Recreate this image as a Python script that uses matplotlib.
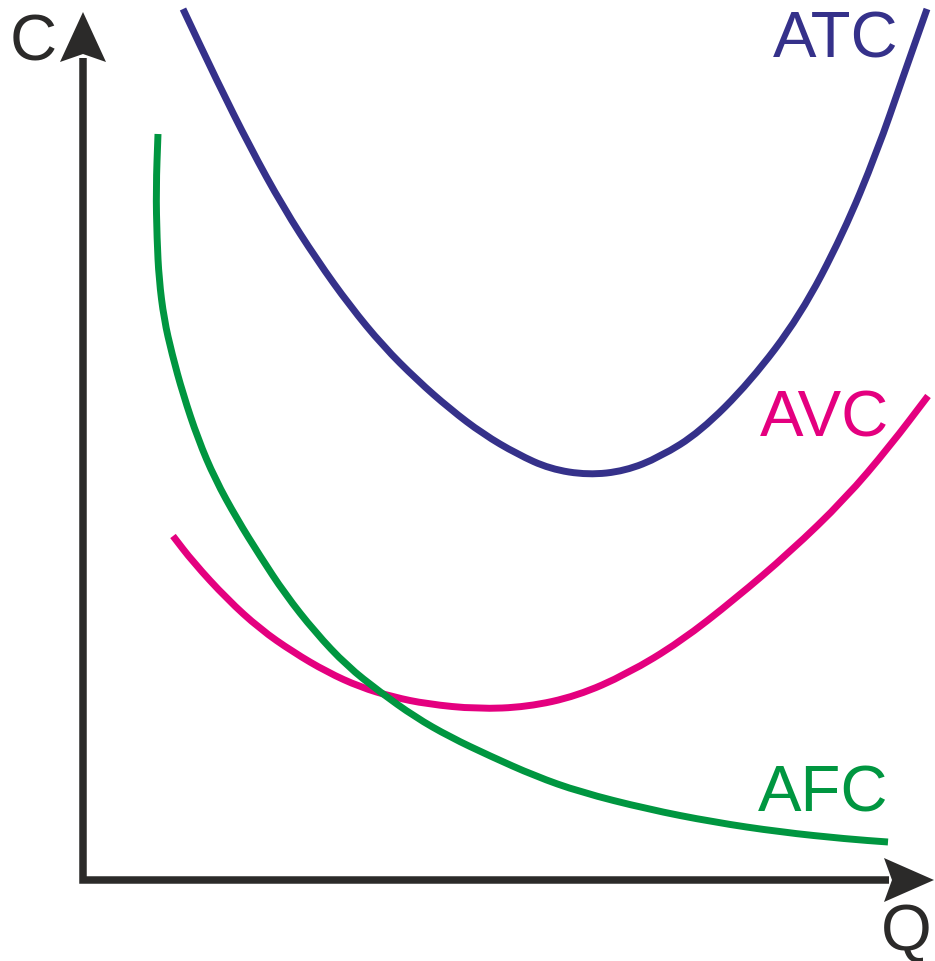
import matplotlib
matplotlib.use("Agg")
import matplotlib.pyplot as plt
from matplotlib.patches import Polygon, PathPatch
from matplotlib.path import Path

# ---- data (Q, C) ----
atc_q = [10.0, 13.4, 16.7, 20.0, 23.4, 26.7, 30.0, 33.4, 36.7, 40.0, 43.4, 46.7, 50.5,
         54.2, 57.7, 61.7, 66.7, 71.7, 76.0, 79.4, 82.0, 84.4]
atc_c = [87.1, 79.9, 73.3, 67.3, 62.0, 57.4, 53.4, 50.0, 47.1, 44.6, 42.6, 41.1, 40.5,
         40.9, 42.3, 44.8, 49.8, 56.4, 64.6, 72.8, 80.3, 87.1]

avc_q = [9.0, 11.0, 14.4, 17.7, 21.0, 24.4, 27.7, 31.0, 34.4, 39.4, 44.4, 49.4, 54.4,
         59.7, 65.2, 70.7, 76.2, 80.7, 84.5]
avc_c = [34.4, 31.8, 28.1, 25.1, 22.8, 20.8, 19.3, 18.3, 17.6, 17.1, 17.3, 18.4, 20.6,
         23.8, 28.1, 32.8, 38.1, 43.4, 48.4]

afc_q = [7.5, 7.3, 7.4, 7.6, 8.1, 8.9, 10.0, 11.5, 13.2, 15.4, 17.7, 20.2, 23.2, 26.4,
         29.7, 33.2, 36.7, 40.7, 45.2, 49.7, 56.4, 63.0, 69.7, 76.4, 80.5]
afc_c = [74.6, 69.1, 64.1, 60.1, 56.1, 52.6, 48.6, 44.1, 40.1, 36.1, 32.4, 28.6, 24.8, 21.4,
         18.8, 16.3, 14.3, 12.4, 10.4, 8.8, 7.1, 5.8, 4.8, 4.1, 3.8]

curve_labels = ["ATC", "AVC", "AFC"]
axis_labels = ["C", "Q"]

# ---- style ----
COL_ATC = "#35318a"
COL_AVC = "#e4007f"
COL_AFC = "#009640"
COL_AX = "#2b2a29"
FONT = "Liberation Sans"


def smooth_path(xs, ys):
    """Quadratic Bezier rendering through the read points (data coordinates)."""
    pts = list(zip(xs, ys))
    verts = [pts[0]]
    codes = [Path.MOVETO]
    mid = lambda a, b: ((a[0] + b[0]) / 2.0, (a[1] + b[1]) / 2.0)
    verts.append(mid(pts[0], pts[1]))
    codes.append(Path.LINETO)
    for i in range(1, len(pts) - 1):
        verts += [pts[i], mid(pts[i], pts[i + 1])]
        codes += [Path.CURVE3, Path.CURVE3]
    verts.append(pts[-1])
    codes.append(Path.LINETO)
    return Path(verts, codes)


fig = plt.figure(figsize=(9.35, 9.62), dpi=100)
ax = fig.add_axes([0, 0, 1, 1])
ax.set_xlim(-8.3, 85.2)
ax.set_ylim(-8.1, 88.1)
ax.axis("off")

lw = 5.0
for xs, ys, col in [(atc_q, atc_c, COL_ATC), (avc_q, avc_c, COL_AVC), (afc_q, afc_c, COL_AFC)]:
    ax.add_patch(PathPatch(smooth_path(xs, ys), fill=False, edgecolor=col, lw=lw,
                           capstyle="butt", joinstyle="round"))

# axes with arrowheads
ax.plot([0, 0, 80.6], [82.2, 0, 0], color=COL_AX, lw=5.4,
        solid_joinstyle="miter", solid_capstyle="butt")
ax.add_patch(Polygon([(0, 86.8), (2.3, 81.8), (0, 82.6), (-2.3, 81.8)],
                     closed=True, color=COL_AX, lw=0))
ax.add_patch(Polygon([(85.1, 0), (80.1, 2.2), (80.9, 0), (80.1, -2.2)],
                     closed=True, color=COL_AX, lw=0))

fs = 47
ax.text(69.0, 82.3, curve_labels[0], color=COL_ATC, fontsize=fs, family=FONT,
        ha="left", va="baseline")
ax.text(67.7, 44.4, curve_labels[1], color=COL_AVC, fontsize=fs, family=FONT,
        ha="left", va="baseline")
ax.text(67.5, 6.9, curve_labels[2], color=COL_AFC, fontsize=fs, family=FONT,
        ha="left", va="baseline")
ax.text(-7.3, 82.0, axis_labels[0], color=COL_AX, fontsize=fs, family=FONT,
        ha="left", va="baseline")
ax.text(79.8, -6.9, axis_labels[1], color=COL_AX, fontsize=fs, family=FONT,
        ha="left", va="baseline")

fig.savefig("out.png", dpi=100, facecolor="white")
